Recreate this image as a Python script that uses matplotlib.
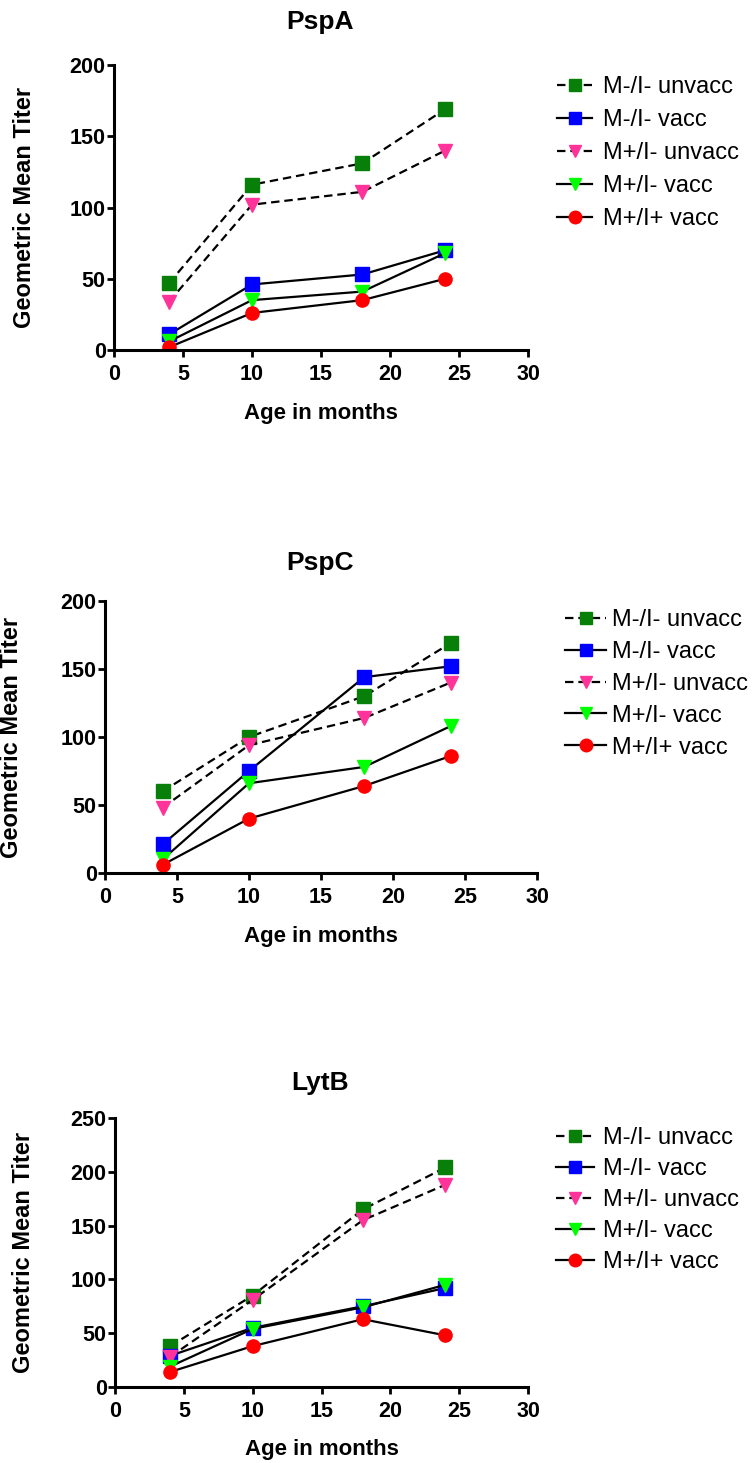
import matplotlib
matplotlib.use("Agg")
import matplotlib.pyplot as plt

plt.rcParams['font.family'] = ['Liberation Sans', 'DejaVu Sans']

ages = [4, 10, 18, 24]
series_names = ['M-/I- unvacc', 'M-/I- vacc', 'M+/I- unvacc', 'M+/I- vacc', 'M+/I+ vacc']

# values
pspa = [
    [47, 116, 131, 169],
    [11, 46, 53, 70],
    [34, 102, 111, 140],
    [6, 35, 41, 68],
    [2, 26, 35, 50],
]
pspc = [
    [60, 100, 130, 169],
    [21, 75, 144, 152],
    [48, 94, 114, 140],
    [10, 66, 78, 108],
    [6, 40, 64, 86],
]
lytb = [
    [38, 85, 165, 204],
    [29, 55, 75, 92],
    [28, 81, 155, 188],
    [19, 54, 74, 95],
    [14, 38, 63, 48],
]

titles = ['PspA', 'PspC', 'LytB']
datasets = [pspa, pspc, lytb]
ymaxes = [200, 200, 250]

colors = ['#087f08', '#0000ff', '#ff3399', '#00ff00', '#ff0000']
markers = ['s', 's', 'v', 'v', 'o']
styles = ['--', '-', '--', '-', '-']

W, H = 753, 1463
fig = plt.figure(figsize=(W / 100, H / 100), dpi=100)

# axes boxes in pixels: left, top, right, bottom
boxes = [(114, 65, 528, 350), (105, 601, 537, 873), (115, 1118, 528, 1387)]
legend_pos = [(557, 76), (565, 609), (556, 1127)]
handle_len = [1.5, 1.75, 1.6]
text_pad = [0.45, 0.25, 0.4]
row_space = [0.47, 0.42, 0.38]
title_y = [22, 563, 1083]
ylab_x = [25, 12, 24]

for k in range(3):
    l, t, r, b = boxes[k]
    ax = fig.add_axes([l / W, 1 - b / H, (r - l) / W, (b - t) / H])
    for i in range(5):
        ax.plot(ages, datasets[k][i], linestyle=styles[i], color='black', lw=1.6,
                dashes=(3.8, 2.2) if styles[i] == '--' else (None, None),
                marker=markers[i], markersize=9.5, markerfacecolor=colors[i],
                markeredgecolor=colors[i], label=series_names[i])
    ax.set_xlim(0, 30)
    ax.set_ylim(0, ymaxes[k])
    ax.set_xticks([0, 5, 10, 15, 20, 25, 30])
    ax.set_yticks(range(0, ymaxes[k] + 1, 50))
    for s in ['top', 'right']:
        ax.spines[s].set_visible(False)
    for s in ['left', 'bottom']:
        ax.spines[s].set_linewidth(2.2)
    ax.tick_params(width=2, length=5, labelsize=15.5)
    ax.tick_params(axis='x', pad=5)
    ax.tick_params(axis='y', pad=1)
    for lab in ax.get_xticklabels() + ax.get_yticklabels():
        lab.set_fontweight('bold')
    ax.set_xlabel('Age in months', fontsize=16, fontweight='bold')
    ax.set_ylabel('Geometric Mean Titer', fontsize=17, fontweight='bold')
    ax.xaxis.label.set_verticalalignment('center')
    ax.yaxis.label.set_verticalalignment('center')
    ax.xaxis.set_label_coords(0.5, -63 / (b - t))
    ax.yaxis.set_label_coords((ylab_x[k] - l) / (r - l), 0.5)
    fig.text(320 / W, 1 - title_y[k] / H, titles[k], fontsize=19,
             fontweight='bold', ha='center', va='center')
    lx, ly = legend_pos[k]
    ax.legend(loc='upper left', bbox_to_anchor=(lx / W, 1 - ly / H),
              bbox_transform=fig.transFigure, frameon=False, fontsize=17,
              borderaxespad=0, borderpad=0, handlelength=handle_len[k],
              handletextpad=text_pad[k], labelspacing=row_space[k], markerscale=0.95)

fig.savefig('out.png', dpi=100)
